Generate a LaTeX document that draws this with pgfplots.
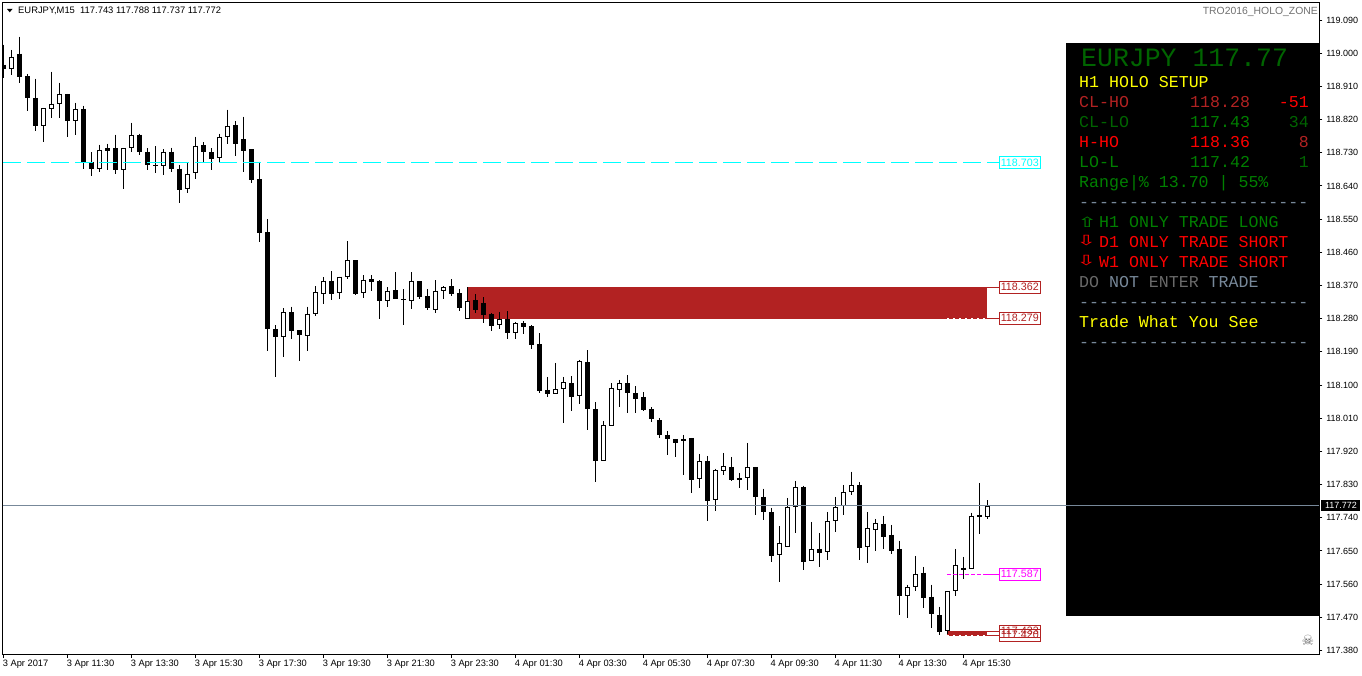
\documentclass[border=0pt]{standalone}
\usepackage{pgfplots}
\pgfplotsset{compat=1.18}
\usepackage{pgfplotstable}
\usepackage{fontspec}
\setmainfont{Liberation Sans}
\newfontfamily\mono{Liberation Mono}
\newfontfamily\dejavu{DejaVu Sans}
\definecolor{firebrick}{HTML}{B22222}
\definecolor{slategrayc}{HTML}{778899}
\definecolor{dkgreen}{HTML}{006400}
\definecolor{mtgreen}{HTML}{008000}
\definecolor{dimg}{HTML}{696969}
\definecolor{magentac}{HTML}{FF00FF}
\definecolor{cyanc}{HTML}{00FFFF}
\definecolor{yellowc}{HTML}{FFFF00}
\definecolor{redc}{HTML}{FF0000}
% i high bodytop bodybottom low
\pgfplotstableread{
i H T B L
0 119.023 118.969 118.958 118.932
2 119.045 118.999 118.935 118.920
3 118.944 118.938 118.878 118.844
4 118.931 118.879 118.802 118.788
8 118.890 118.890 118.815 118.774
10 118.858 118.849 118.706 118.685
11 118.731 118.704 118.685 118.668
13 118.755 118.742 118.736 118.682
14 118.779 118.742 118.682 118.671
17 118.782 118.779 118.731 118.725
18 118.742 118.733 118.696 118.682
19 118.747 118.698 118.693 118.674
21 118.744 118.733 118.685 118.679
22 118.696 118.687 118.628 118.595
25 118.758 118.750 118.731 118.701
26 118.742 118.731 118.712 118.682
29 118.815 118.804 118.755 118.720
30 118.828 118.766 118.736 118.679
31 118.739 118.739 118.655 118.647
32 118.706 118.658 118.511 118.487
33 118.549 118.514 118.252 118.192
34 118.262 118.252 118.230 118.122
36 118.313 118.297 118.246 118.225
37 118.249 118.249 118.235 118.165
41 118.409 118.383 118.346 118.330
44 118.438 118.438 118.346 118.344
46 118.398 118.387 118.379 118.354
47 118.384 118.382 118.327 118.279
49 118.406 118.357 118.333 118.333
50 118.360 118.333 118.330 118.262
52 118.382 118.382 118.338 118.333
53 118.360 118.341 118.308 118.303
56 118.387 118.368 118.346 118.341
57 118.360 118.349 118.308 118.300
59 118.346 118.330 118.303 118.295
60 118.338 118.322 118.289 118.268
61 118.295 118.292 118.260 118.246
63 118.300 118.279 118.241 118.225
65 118.273 118.268 118.257 118.238
66 118.262 118.260 118.208 118.198
67 118.241 118.211 118.084 118.078
68 118.122 118.087 118.076 118.068
71 118.124 118.105 118.068 118.030
73 118.195 118.162 118.035 117.978
74 118.054 118.035 117.894 117.837
78 118.127 118.105 118.078 118.024
79 118.097 118.078 118.062 118.024
80 118.081 118.068 118.032 118.030
81 118.040 118.035 118.008 118.000
82 118.011 118.005 117.965 117.957
83 117.976 117.965 117.954 117.911
84 117.954 117.954 117.943 117.905
85 117.965 117.954 117.948 117.856
86 117.957 117.957 117.843 117.808
88 117.908 117.894 117.786 117.732
91 117.905 117.878 117.843 117.840
92 117.862 117.848 117.843 117.821
94 117.878 117.878 117.797 117.748
95 117.819 117.797 117.756 117.735
96 117.767 117.756 117.637 117.621
100 117.827 117.824 117.621 117.599
102 117.699 117.656 117.645 117.607
107 117.837 117.829 117.659 117.626
110 117.745 117.724 117.689 117.656
111 117.721 117.694 117.651 117.643
112 117.678 117.656 117.529 117.475
115 117.607 117.591 117.523 117.494
116 117.559 117.526 117.480 117.442
117 117.499 117.477 117.431 117.421
120 117.634 117.605 117.599 117.575
122 117.835 117.748 117.743 117.697
}\bear
\pgfplotstableread{
i H T B L
1 119.009 118.990 118.956 118.942
5 118.852 118.852 118.802 118.758
6 118.950 118.863 118.848 118.823
7 118.920 118.890 118.861 118.823
9 118.866 118.849 118.815 118.777
12 118.752 118.738 118.686 118.679
15 118.743 118.743 118.684 118.631
16 118.812 118.779 118.742 118.733
20 118.739 118.733 118.694 118.671
23 118.701 118.673 118.631 118.622
24 118.774 118.749 118.675 118.660
27 118.782 118.773 118.715 118.706
28 118.847 118.803 118.772 118.755
35 118.308 118.297 118.231 118.176
38 118.313 118.294 118.233 118.192
39 118.368 118.351 118.293 118.287
40 118.392 118.383 118.347 118.319
42 118.394 118.394 118.350 118.333
43 118.490 118.438 118.393 118.387
45 118.398 118.386 118.350 118.336
48 118.365 118.356 118.328 118.311
51 118.406 118.383 118.328 118.306
54 118.384 118.356 118.304 118.295
55 118.368 118.365 118.355 118.333
58 118.365 118.329 118.279 118.279
62 118.298 118.278 118.263 118.252
64 118.271 118.267 118.242 118.225
69 118.160 118.088 118.077 118.077
70 118.122 118.107 118.090 117.997
72 118.168 118.164 118.071 118.049
75 118.003 117.991 117.895 117.895
76 118.105 118.091 117.990 117.990
77 118.114 118.105 118.087 118.040
87 117.913 117.893 117.844 117.821
89 117.873 117.869 117.787 117.759
90 117.916 117.880 117.868 117.856
93 117.943 117.877 117.849 117.816
97 117.718 117.672 117.638 117.567
98 117.794 117.769 117.662 117.662
99 117.840 117.823 117.768 117.699
101 117.729 117.655 117.622 117.622
103 117.756 117.731 117.646 117.626
104 117.797 117.769 117.730 117.702
105 117.829 117.810 117.771 117.748
106 117.865 117.829 117.809 117.802
108 117.756 117.712 117.660 117.618
109 117.737 117.726 117.708 117.651
113 117.559 117.552 117.527 117.467
114 117.637 117.588 117.551 117.542
118 117.542 117.542 117.432 117.426
119 117.656 117.612 117.541 117.529
121 117.754 117.745 117.601 117.601
123 117.788 117.772 117.743 117.737
}\bull
\tikzset{pricebox/.style={anchor=west,fill=white,draw=#1,text=#1,line width=1pt,inner sep=0pt,minimum width=41.5pt,minimum height=12pt,font=\fontsize{10.7}{11}\selectfont},
 pl/.style={anchor=base west,inner sep=0pt,font=\mono\fontsize{16.6}{17}\selectfont},
 pr/.style={anchor=base east,inner sep=0pt,font=\mono\fontsize{16.6}{17}\selectfont},
 arr/.style={anchor=base west,inner sep=0pt,xscale=1.7,font=\dejavu\fontsize{14}{14}\selectfont}}
\begin{document}
\begin{tikzpicture}[x=1pt,y=1pt]
\path[use as bounding box] (0,0) rectangle (1362,675);
\begin{axis}[
 at={(2.7pt,20.5pt)},anchor=south west,
 scale only axis,width=1316.6pt,height=651.7pt,
 xmin=-0.09,xmax=164.5,ymin=117.3692,ymax=119.1367,
 axis line style={black,line width=1pt},
 tick style={black,line width=1pt},
 tick align=outside,major tick length=3pt,
 xtick pos=lower,ytick pos=upper,yticklabel pos=upper,
 xtick={0,8,...,120},
 xticklabels={3 Apr 2017,3 Apr 11:30,3 Apr 13:30,3 Apr 15:30,3 Apr 17:30,3 Apr 19:30,3 Apr 21:30,3 Apr 23:30,4 Apr 01:30,4 Apr 03:30,4 Apr 05:30,4 Apr 07:30,4 Apr 09:30,4 Apr 11:30,4 Apr 13:30,4 Apr 15:30},
 x tick label style={anchor=north west,inner xsep=0pt,inner ysep=2pt,xshift=-0.8pt,font=\fontsize{9.3}{10}\selectfont},
 ytick={117.38,117.47,117.56,117.65,117.74,117.83,117.92,118.01,118.10,118.19,118.28,118.37,118.46,118.55,118.64,118.73,118.82,118.91,119.00,119.09},
 yticklabels={117.380,117.470,117.560,117.650,117.740,117.830,117.920,118.010,118.100,118.190,118.280,118.370,118.460,118.550,118.640,118.730,118.820,118.910,119.000,119.090},
 y tick label style={anchor=west,inner xsep=0pt,xshift=3.8pt,font=\fontsize{9}{10}\selectfont},
 clip=true,
]
% zone
\addplot[fill=firebrick,draw=none] coordinates {(58,118.280)(123,118.280)(123,118.3655)(58,118.3655)} --cycle;
\addplot[fill=firebrick,draw=none] coordinates {(118,117.4205)(123,117.4205)(123,117.4335)(118,117.4335)} --cycle;
\addplot[white,line width=1pt,dash pattern=on 2pt off 4pt] coordinates {(118,118.2813)(123,118.2813)};
\addplot[white,line width=1pt,dash pattern=on 2pt off 4pt] coordinates {(118,117.4215)(123,117.4215)};
% wicks
\addplot[draw=none,mark=none,error bars/.cd,y dir=minus,y explicit,error mark=none,error bar style={solid,draw=black,line width=1pt}] table[x=i,y=H,y error expr=\thisrow{H}-\thisrow{L}] {\bear};
\addplot[draw=none,mark=none,error bars/.cd,y dir=minus,y explicit,error mark=none,error bar style={solid,draw=black,line width=1pt}] table[x=i,y=H,y error expr=\thisrow{H}-\thisrow{L}] {\bull};
% bodies
\addplot[draw=none,mark=none,error bars/.cd,y dir=minus,y explicit,error mark=none,error bar style={solid,draw=black,line width=5pt}] table[x=i,y=T,y error expr=\thisrow{T}-\thisrow{B}] {\bear};
\addplot[draw=none,mark=none,error bars/.cd,y dir=minus,y explicit,error mark=none,error bar style={solid,draw=black,line width=5pt}] table[x=i,y=T,y error expr=\thisrow{T}-\thisrow{B}] {\bull};
\addplot[draw=none,mark=none,error bars/.cd,y dir=minus,y explicit,error mark=none,error bar style={solid,draw=white,line width=3pt}] table[x=i,y expr=\thisrow{T}-0.0027,y error expr=\thisrow{T}-\thisrow{B}-0.0054] {\bull};
% levels
\addplot[cyanc,line width=1pt,dash pattern=on 18pt off 6pt,forget plot] coordinates {(0,118.703)(124.4,118.703)};
\addplot[magentac,line width=1pt,dash pattern=on 4pt off 2pt] coordinates {(118,117.587)(123,117.587)};
\addplot[magentac,line width=1pt] coordinates {(123,117.587)(124.4,117.587)};
\addplot[firebrick,line width=1pt] coordinates {(123,118.2813)(124.4,118.2813)};
\addplot[firebrick,line width=1pt] coordinates {(123,118.3653)(124.4,118.3653)};
\addplot[firebrick,line width=1pt] coordinates {(123,117.4215)(124.4,117.4215)};
\addplot[firebrick,line width=1pt] coordinates {(123,117.4325)(124.4,117.4325)};
% labels
\node[pricebox=cyanc] at (axis cs:124.4,118.703) {118.703};
\node[pricebox=firebrick] at (axis cs:124.4,118.3653) {118.362};
\node[pricebox=firebrick] at (axis cs:124.4,118.2813) {118.279};
\node[pricebox=magentac] at (axis cs:124.4,117.587) {117.587};
\node[pricebox=firebrick] at (axis cs:124.4,117.4215) {117.420};
\node[pricebox=firebrick,fill=none] at (axis cs:124.4,117.4325) {117.433};
% panel
\fill[black] (axis cs:132.875,117.4735) rectangle (axis cs:164.5,119.0265);
\addplot[slategrayc,line width=1pt] coordinates {(-0.09,117.772)(164.5,117.772)};
\end{axis}
% header
\fill[black] (7,666) -- (12.5,666) -- (9.75,662.7) -- cycle;
\node[anchor=base west,inner sep=0pt,font=\fontsize{9.4}{10}\selectfont] at (18,661) {EURJPY,M15\ \ 117.743 117.788 117.737 117.772};
\node[anchor=base east,inner sep=0pt,text={rgb,255:red,112;green,112;blue,112},font=\fontsize{10.4}{11}\selectfont] at (1318,660) {TRO2016\_HOLO\_ZONE};
% last price flag
\fill[black] (1321,164) rectangle (1360,175);
\node[text=white,inner sep=0pt,font=\fontsize{9}{10}\selectfont] at (1341,169.5) {117.772};
% skull
\node[text=dimg,inner sep=0pt,font=\dejavu\fontsize{14}{14}\selectfont] at (1308,35) {☠};
% panel text
\node[pl,text=dkgreen,font=\mono\fontsize{26.5}{27}\selectfont] at (1081,608) {EURJPY 117.77};
\node[pl,text=yellowc] at (1079,587) {H1 HOLO SETUP};
\node[pl,text=firebrick] at (1079,567) {CL-HO};
\node[pl,text=firebrick] at (1190,567) {118.28};
\node[pr,text=redc] at (1309,567) {-51};
\node[pl,text=dkgreen] at (1079,547) {CL-LO};
\node[pl,text=mtgreen] at (1190,547) {117.43};
\node[pr,text=dkgreen] at (1309,547) {34};
\node[pl,text=redc] at (1079,527) {H-HO};
\node[pl,text=redc] at (1190,527) {118.36};
\node[pr,text=firebrick] at (1309,527) {8};
\node[pl,text=mtgreen] at (1079,507) {LO-L};
\node[pl,text=mtgreen] at (1190,507) {117.42};
\node[pr,text=dkgreen] at (1309,507) {1};
\node[pl,text=mtgreen] at (1079,487) {Range|\% 13.70 | 55\%};
\node[pl,text=slategrayc] at (1079,467) {-----------------------};
\node[arr,text=mtgreen] at (1077,447) {⇧};
\node[pl,text=mtgreen] at (1099,447) {H1 ONLY TRADE LONG};
\node[arr,text=redc] at (1076,429) {⇩};
\node[pl,text=redc] at (1099,427) {D1 ONLY TRADE SHORT};
\node[arr,text=redc] at (1076,409) {⇩};
\node[pl,text=redc] at (1099,407) {W1 ONLY TRADE SHORT};
\node[pl] at (1079,387) {\textcolor{dimg}{DO} \textcolor{slategrayc}{NOT} \textcolor{dimg}{ENTER} \textcolor{slategrayc}{TRADE}};
\node[pl,text=slategrayc] at (1079,367) {-----------------------};
\node[pl,text=yellowc] at (1079,347) {Trade What You See};
\node[pl,text=slategrayc] at (1079,327) {-----------------------};
\end{tikzpicture}
\end{document}
